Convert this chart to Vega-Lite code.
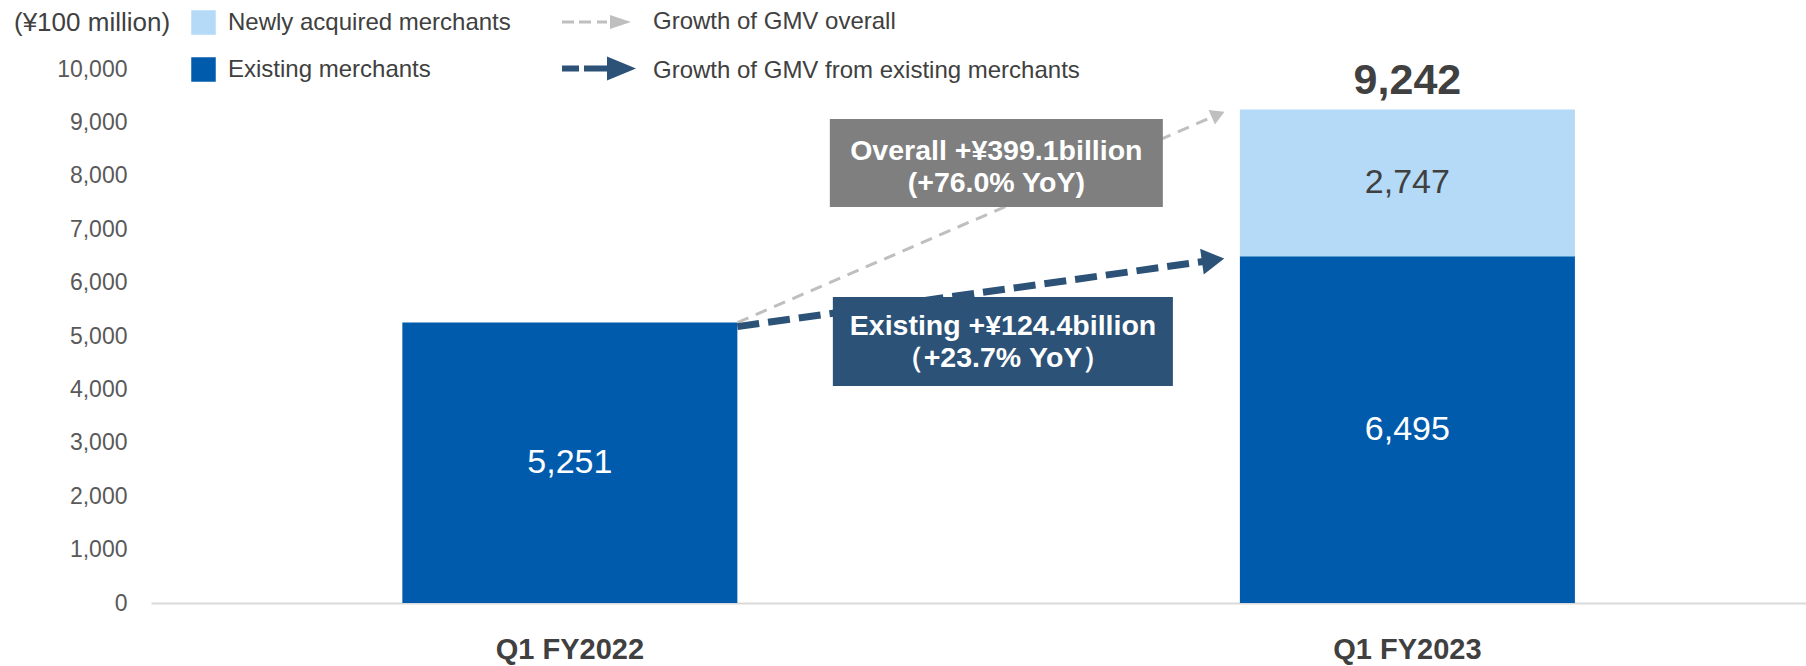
{
  "$schema": "https://vega.github.io/schema/vega-lite/v6.json",
  "width": 1655,
  "height": 534,
  "autosize": "none",
  "padding": {"left": 151, "top": 69, "right": 0, "bottom": 63},
  "background": "white",
  "config": {
    "font": "Liberation Sans",
    "view": {"stroke": null},
    "axisY": {"domain": false, "ticks": false, "tickSize": 0, "grid": false, "labelFontSize": 23, "labelColor": "#595959", "labelPadding": 24, "title": null, "labelExpr": "format(datum.value, ',')"},
    "axisX": {"domainColor": "#D9D9D9", "domainWidth": 2, "ticks": false, "tickSize": 0, "grid": false, "labelFontSize": 29, "labelFontWeight": "bold", "labelColor": "#404040", "labelPadding": 32, "labelAngle": 0, "title": null}
  },
  "datasets": {
    "gmv": [
      {"period": "Q1 FY2022", "segment": "Existing merchants", "value": 5251},
      {"period": "Q1 FY2023", "segment": "Existing merchants", "value": 6495},
      {"period": "Q1 FY2023", "segment": "Newly acquired merchants", "value": 2747}
    ],
    "growth": [
      {"arrow": "Growth of GMV overall", "from": "Q1 FY2022", "to": "Q1 FY2023", "start": 5251, "end": 9242, "note": "Overall +¥399.1billion\n(+76.0% YoY)"},
      {"arrow": "Growth of GMV from existing merchants", "from": "Q1 FY2022", "to": "Q1 FY2023", "start": 5251, "end": 6495, "note": "Existing +¥124.4billion\n（+23.7% YoY）"}
    ]
  },
  "layer": [
    {
      "data": {"name": "gmv"},
      "mark": {"type": "bar"},
      "encoding": {
        "x": {"field": "period", "type": "nominal", "title": null,
              "scale": {"paddingInner": 0.6, "paddingOuter": 0.288, "align": 0.521}},
        "y": {"field": "value", "type": "quantitative", "stack": "zero", "title": null,
              "scale": {"domain": [0, 10000], "nice": false},
              "axis": {"values": [0, 1000, 2000, 3000, 4000, 5000, 6000, 7000, 8000, 9000, 10000], "format": ",", "labelExpr": "format(datum.value, ',')"}},
        "color": {"field": "segment", "type": "nominal",
                  "scale": {"domain": ["Newly acquired merchants", "Existing merchants"], "range": ["#B4DAF7", "#005BAC"]},
                  "legend": {"orient": "none", "legendX": -137, "legendY": -59, "padding": 0,
                             "title": "(¥100 million)", "titleOrient": "left", "titleAnchor": "start", "titleFontSize": 26, "titleFontWeight": "normal", "titleColor": "#404040", "titlePadding": 20,
                             "symbolType": "square", "symbolSize": 600, "symbolStrokeWidth": 0, "symbolOpacity": 1,
                             "labelFontSize": 24, "labelColor": "#404040", "labelOffset": 12, "labelLimit": 0, "rowPadding": 22}},
        "order": {"field": "segment", "sort": "ascending"}
      }
    },
    {
      "data": {"name": "growth"},
      "transform": [{"filter": "datum.arrow === 'Growth of GMV overall'"}],
      "mark": {"type": "rule", "stroke": "#BFBFBF", "strokeWidth": 3, "strokeDash": [12, 8], "strokeCap": "butt", "y2Offset": 5},
      "encoding": {
        "x": {"field": "from", "type": "nominal", "bandPosition": 1, "title": null},
        "x2": {"field": "to", "bandPosition": -0.065},
        "y": {"field": "start", "type": "quantitative", "title": null},
        "y2": {"field": "end"}
      }
    },
    {
      "data": {"name": "growth"},
      "transform": [{"filter": "datum.arrow === 'Growth of GMV from existing merchants'"}],
      "mark": {"type": "rule", "stroke": "#2C5278", "strokeWidth": 7, "strokeDash": [22, 9], "strokeCap": "butt", "yOffset": 4, "y2Offset": 4},
      "encoding": {
        "x": {"field": "from", "type": "nominal", "bandPosition": 1, "title": null},
        "x2": {"field": "to", "bandPosition": -0.08},
        "y": {"field": "start", "type": "quantitative", "title": null},
        "y2": {"field": "end"}
      }
    },
    {
      "data": {"name": "growth"},
      "transform": [{"filter": "datum.arrow === 'Growth of GMV overall'"}],
      "mark": {"type": "point", "shape": "triangle-right", "filled": true, "opacity": 1, "size": 256, "angle": -23.6, "strokeWidth": 0, "yOffset": 5},
      "encoding": {
        "x": {"field": "to", "type": "nominal", "bandPosition": -0.065, "title": null},
        "y": {"field": "end", "type": "quantitative", "title": null},
        "fill": {"field": "arrow", "type": "nominal",
                 "scale": {"domain": ["Growth of GMV overall", "Growth of GMV from existing merchants"], "range": ["#BFBFBF", "#2C5278"]},
                 "legend": {"orient": "none", "legendX": 411, "legendY": -59, "padding": 0, "title": null,
                            "symbolSize": 576, "symbolStrokeWidth": 0, "symbolOpacity": 1,
                            "labelFontSize": 24, "labelColor": "#404040", "labelOffset": 67, "labelLimit": 0, "rowPadding": 22,
                            "encode": {"symbols": {"update": {"shape": {"signal": "datum.value === 'Growth of GMV overall' ? 'M-1,-0.125H0V0.125H-1Z M0.417,-0.125H1.417V0.125H0.417Z M1.917,-0.125H2.75V0.125H1.917Z M3,-0.583L4.75,0L3,0.583Z' : 'M-1,-0.45H0.417V0.05H-1Z M0.833,-0.45H2.75V0.05H0.833Z M2.75,-1.2L5.167,-0.2L2.75,0.8Z'"}}}}}}
      }
    },
    {
      "data": {"name": "growth"},
      "transform": [{"filter": "datum.arrow === 'Growth of GMV from existing merchants'"}],
      "mark": {"type": "point", "shape": "triangle-right", "filled": true, "opacity": 1, "size": 676, "angle": -8, "strokeWidth": 0, "yOffset": 4},
      "encoding": {
        "x": {"field": "to", "type": "nominal", "bandPosition": -0.08, "title": null},
        "y": {"field": "end", "type": "quantitative", "title": null},
        "fill": {"field": "arrow", "type": "nominal",
                 "scale": {"domain": ["Growth of GMV overall", "Growth of GMV from existing merchants"], "range": ["#BFBFBF", "#2C5278"]}}
      }
    },
    {
      "data": {"name": "growth"},
      "transform": [{"filter": "datum.arrow === 'Growth of GMV overall'"}],
      "mark": {"type": "rect", "color": "#7F7F7F", "yOffset": 9.5, "y2Offset": 97.5},
      "encoding": {
        "x": {"field": "from", "type": "nominal", "bandPosition": 1.276, "title": null},
        "x2": {"field": "to", "bandPosition": -0.23},
        "y": {"field": "end", "type": "quantitative", "title": null},
        "y2": {"field": "end"}
      }
    },
    {
      "data": {"name": "growth"},
      "transform": [{"filter": "datum.arrow === 'Growth of GMV from existing merchants'"}],
      "mark": {"type": "rect", "color": "#2C5278", "yOffset": -25.6, "y2Offset": 63.4},
      "encoding": {
        "x": {"field": "from", "type": "nominal", "bandPosition": 1.285, "title": null},
        "x2": {"field": "to", "bandPosition": -0.2},
        "y": {"field": "start", "type": "quantitative", "title": null},
        "y2": {"field": "start"}
      }
    },
    {
      "data": {"name": "growth"},
      "transform": [{"filter": "datum.arrow === 'Growth of GMV overall'"}],
      "mark": {"type": "text", "color": "#FFFFFF", "fontSize": 28.5, "fontWeight": "bold", "lineBreak": "\n", "lineHeight": 32, "align": "center", "baseline": "middle", "dy": 42},
      "encoding": {
        "x": {"field": "from", "type": "nominal", "bandPosition": 1.773, "title": null},
        "y": {"field": "end", "type": "quantitative", "title": null},
        "text": {"field": "note"}
      }
    },
    {
      "data": {"name": "growth"},
      "transform": [{"filter": "datum.arrow === 'Growth of GMV from existing merchants'"}],
      "mark": {"type": "text", "color": "#FFFFFF", "fontSize": 28.5, "fontWeight": "bold", "lineBreak": "\n", "lineHeight": 32, "align": "center", "baseline": "middle", "dy": 3},
      "encoding": {
        "x": {"field": "from", "type": "nominal", "bandPosition": 1.793, "title": null},
        "y": {"field": "start", "type": "quantitative", "title": null},
        "text": {"field": "note"}
      }
    },
    {
      "data": {"name": "gmv"},
      "mark": {"type": "text", "fontSize": 34, "align": "center", "baseline": "middle"},
      "encoding": {
        "x": {"field": "period", "type": "nominal", "title": null},
        "y": {"field": "value", "type": "quantitative", "stack": "zero", "bandPosition": 0.5, "title": null},
        "detail": {"field": "segment"},
        "order": {"field": "segment", "sort": "ascending"},
        "text": {"field": "value", "type": "quantitative", "format": ","},
        "color": {"condition": {"test": "datum.segment === 'Existing merchants'", "value": "#FFFFFF"}, "value": "#404040"}
      }
    },
    {
      "data": {"name": "gmv"},
      "transform": [
        {"aggregate": [{"op": "sum", "field": "value", "as": "total"}], "groupby": ["period"]},
        {"filter": "datum.period === 'Q1 FY2023'"}
      ],
      "mark": {"type": "text", "fontSize": 43, "fontWeight": "bold", "color": "#404040", "align": "center", "baseline": "alphabetic", "dy": -15},
      "encoding": {
        "x": {"field": "period", "type": "nominal", "title": null},
        "y": {"field": "total", "type": "quantitative", "title": null},
        "text": {"field": "total", "type": "quantitative", "format": ","}
      }
    }
  ]
}
